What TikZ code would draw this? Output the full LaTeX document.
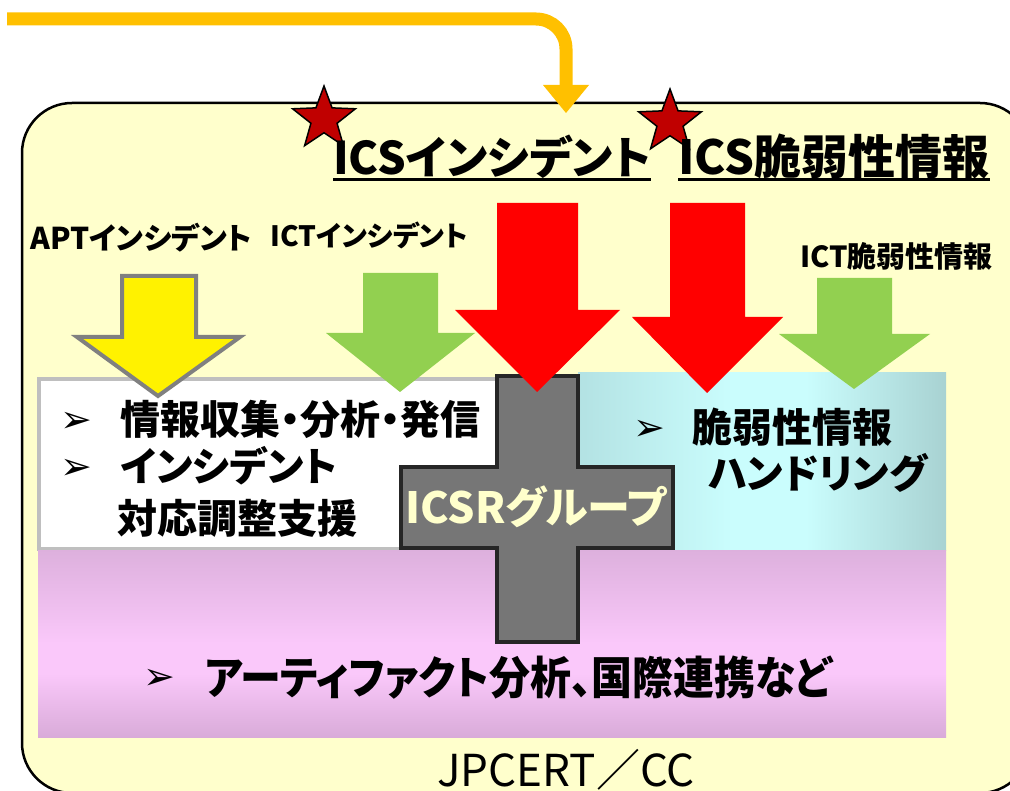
\documentclass[tikz,border=0pt]{standalone}
\usepackage{fontspec}
\newfontfamily\jp[RawFeature=+palt]{Noto Sans CJK JP}
\newfontfamily\jpf{Noto Sans CJK JP}
\newfontfamily\dv{DejaVu Sans}
\usetikzlibrary{shapes.geometric}
\definecolor{boxyellow}{HTML}{FFFFCC}
\definecolor{flowgold}{HTML}{FFC000}
\definecolor{leafgreen}{HTML}{92D050}
\definecolor{alertred}{HTML}{FF0000}
\definecolor{starred}{HTML}{C00000}
\definecolor{crossgray}{HTML}{767676}
\definecolor{crossedge}{HTML}{262626}
\definecolor{palegray}{HTML}{BFBFBF}
\definecolor{cyanmid}{HTML}{CAFDFD}
\definecolor{cyanedge}{HTML}{B3E2E3}
\definecolor{cyanright}{HTML}{A8D2D2}
\definecolor{pinktop}{HTML}{DDB0DD}
\definecolor{pinkbot}{HTML}{D9ABD9}
\definecolor{pinkmid}{HTML}{FAC8FA}
\pgfdeclarehorizontalshading{cyanshade}{100bp}{color(0bp)=(cyanedge); color(25bp)=(cyanedge); color(46bp)=(cyanmid); color(56bp)=(cyanmid); color(75bp)=(cyanright); color(100bp)=(cyanright)}
\pgfdeclareverticalshading{pinkshade}{100bp}{color(0bp)=(pinkbot); color(25bp)=(pinkbot); color(42bp)=(pinkmid); color(50bp)=(pinkmid); color(75bp)=(pinktop); color(100bp)=(pinktop)}
\tikzset{
  txt/.style={inner sep=0pt, anchor=base west, text=black},
  bullet/.style={inner sep=0pt, anchor=base west, font=\dv\bfseries\fontsize{38}{40}\selectfont},
  blockarrow/.style={line join=miter},
  starshape/.style={star, star points=5, star point ratio=2.4, minimum size=66pt, inner sep=0pt, fill=starred, draw=black, line width=1.5pt}
}
\begin{document}
\begin{tikzpicture}[x=1pt,y=-1pt]
\useasboundingbox (0,0) rectangle (1010,791);
\begin{scope}
\clip (0,0) rectangle (1010,791);
% main container
\draw[fill=boxyellow, line width=2.5pt, rounded corners=50pt] (22,103) rectangle (1030,793);
% orange connector
\coordinate (src) at (7,19);
\coordinate (bend) at (566,19);
\coordinate (tipstart) at (566,88);
\draw[flowgold, line width=13pt, rounded corners=30pt] (src) -- (bend) -- (tipstart);
\fill[flowgold] (543,85) -- (589,85) -- (566,113) -- cycle;

% left white box
\draw[draw=palegray, line width=4pt, fill=white] (39,379) rectangle (520,549);
% cyan box
\shade[shading=cyanshade] (578,373) rectangle (946,550);
% pink box
\shade[shading=pinkshade] (38,550) rectangle (946,737);
% cross
\draw[fill=crossgray, draw=crossedge, line width=4pt, line join=miter]
 (497,376) -- (578,376) -- (578,467) -- (673,467) -- (673,548) -- (578,548) -- (578,642) -- (497,642) -- (497,548) -- (401,548) -- (401,467) -- (497,467) -- cycle;

% block arrows
\draw[blockarrow, fill=yellow, draw=gray, line width=4pt] (122,276) -- (196,276) -- (196,337) -- (240,337) -- (158,396) -- (77,337) -- (122,337) -- cycle;
\fill[leafgreen] (363,273) -- (438,273) -- (438,333) -- (475,333) -- (400,392) -- (326,333) -- (363,333) -- cycle;
\fill[alertred] (497,203) -- (578,203) -- (578,310) -- (620,310) -- (537,392) -- (455,310) -- (497,310) -- cycle;
\fill[alertred] (670,203) -- (745,203) -- (745,317) -- (783,317) -- (707,393) -- (632,317) -- (670,317) -- cycle;
\fill[leafgreen] (817,278) -- (892,278) -- (892,334) -- (930,334) -- (854,389) -- (779,334) -- (817,334) -- cycle;

% stars
\node[starshape] (star1) at (324,119) {};
\node[starshape] (star2) at (670,122) {};

% titles
\node[txt, font=\jp\bfseries\fontsize{45}{52}\selectfont] (t1) at (333,175) {ICSインシデント};
\draw[line width=3pt] (t1.south west) -- (t1.south east);
\node[txt, font=\jp\bfseries\fontsize{47}{54}\selectfont] (t2) at (678,175) {ICS脆弱性情報};
\draw[line width=3pt] (t2.south west) -- (t2.south east);

% small labels
\node[txt, font=\jp\bfseries\fontsize{30}{36}\selectfont] (apt) at (30,250) {APTインシデント};
\node[txt, font=\jp\bfseries\fontsize{28}{34}\selectfont] (ict) at (270,247) {ICTインシデント};
\node[txt, font=\jp\bfseries\fontsize{29}{34}\selectfont] (ictv) at (800,268) {ICT脆弱性情報};

% left box text
\node[bullet] (b1) at (60,433) {➢};
\node[txt, font=\jp\bfseries\fontsize{40}{46}\selectfont] (l1) at (120,435) {情報収集・分析・発信};
\node[bullet] (b2) at (60,480) {➢};
\node[txt, font=\jp\bfseries\fontsize{40}{46}\selectfont] (l2) at (120,482) {インシデント};
\node[txt, font=\jpf\bfseries\fontsize{40}{46}\selectfont] (l3) at (117,533) {対応調整支援};

% right box text
\node[bullet] (b3) at (633,441) {➢};
\node[txt, font=\jpf\bfseries\fontsize{40}{46}\selectfont] (r1) at (692,443) {脆弱性情報};
\node[txt, font=\jp\bfseries\fontsize{40}{46}\selectfont] (r2) at (708,489) {ハンドリング};

% cross text
\node[txt, text=boxyellow, font=\jp\bfseries\fontsize{43}{50}\selectfont] (icsr) at (405,523) {ICSRグループ};

% pink text
\node[bullet] (b4) at (143,689) {➢};
\node[txt, font=\jp\bfseries\fontsize{45}{50}\selectfont] (p1) at (205,694) {\scalebox{0.91}[1]{アーティファクト分析、国際連携など}};

% org name
\node[txt, font=\jp\fontsize{44}{48}\selectfont] (org) at (437,786) {JPCERT／CC};
\end{scope}
\end{tikzpicture}
\end{document}
